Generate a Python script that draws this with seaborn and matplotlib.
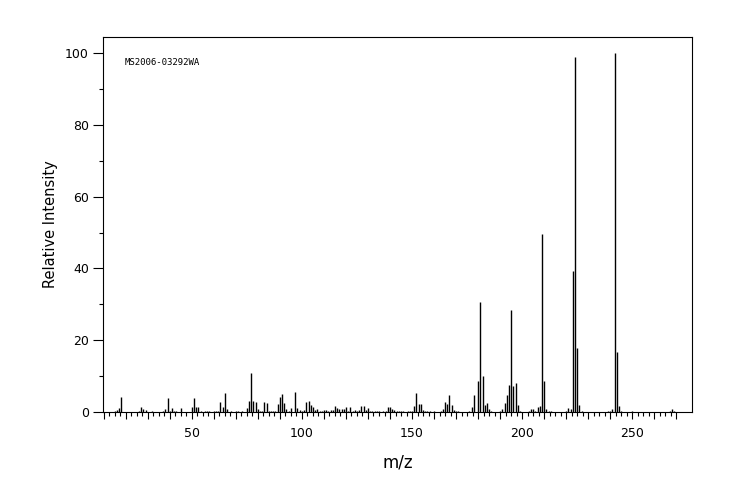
#!/usr/bin/env python3
"""Spectre de masse MS2006-03292WA - recreation"""
import numpy as np
import matplotlib; matplotlib.use('Agg')
import matplotlib.pyplot as plt
import seaborn as sns
from matplotlib.ticker import FixedLocator, MultipleLocator, FuncFormatter

mz = [15, 16, 17, 18, 26, 27, 28, 29, 32,
      37, 38, 39, 40, 41, 42, 43, 45,
      50, 51, 52, 53, 54, 56, 57, 58, 60, 61, 62, 63, 64, 65, 66, 68, 70, 71, 73,
      75, 76, 77, 78, 79, 80, 81, 82, 83, 84, 85, 86, 87, 88, 89, 90,
      91, 92, 93, 94, 95, 97, 98, 99, 100, 101, 102, 103, 104, 105, 106, 107, 108, 109,
      110, 111, 112, 113, 114, 115, 116, 117, 118, 119, 120, 121, 122, 123, 124, 125, 126,
      127, 128, 129, 130, 131, 132, 133, 134, 135, 137, 138, 139, 140, 141, 142, 143, 144,
      145, 146, 148, 149, 150, 151, 152, 153, 154, 155, 156, 157, 158, 160, 163, 164, 165,
      166, 167, 168, 169, 170, 171, 176, 177, 178, 180, 181, 182, 183, 184, 185, 186,
      190, 191, 192, 193, 194, 195, 196, 197, 198, 199, 203, 204, 205, 206, 207, 208, 209,
      210, 211, 212, 213, 220, 221, 222, 223, 224, 225, 226, 227,
      239, 240, 241, 242, 243, 244, 245, 250, 267, 268, 269]
intensity = [0.4, 0.6, 1.1, 4.3, 0.4, 1.5, 0.8, 0.5, 0.4,
             0.4, 0.9, 4.0, 0.4, 1.1, 0.4, 0.4, 1.2,
             1.5, 4.0, 1.4, 1.4, 0.4, 0.3, 0.3, 0.3, 0.3, 0.3, 0.4, 2.9, 1.4, 5.4, 0.7, 0.4, 0.4, 0.4, 0.4,
             1.1, 3.2, 11.0, 3.2, 2.9, 0.7, 0.4, 0.4, 2.9, 2.6, 0.4, 0.4, 0.4, 0.4, 2.1, 4.1,
             5.0, 2.4, 0.8, 0.4, 1.0, 5.7, 1.2, 0.5, 0.4, 0.5, 2.8, 3.1, 1.9, 1.5, 0.6, 0.9, 0.4, 0.4,
             0.6, 0.5, 0.4, 0.5, 0.5, 1.7, 1.0, 0.8, 0.8, 0.8, 1.3, 0.3, 1.3, 0.4, 0.5, 0.4, 0.5,
             1.7, 1.7, 0.5, 1.0, 0.4, 0.4, 0.4, 0.4, 0.4, 0.4, 0.4, 1.5, 1.5, 0.8, 0.5, 0.4, 0.4,
             0.4, 0.4, 0.4, 0.4, 0.4, 1.8, 5.4, 2.2, 2.2, 0.5, 0.4, 0.4, 0.4, 0.4, 0.4, 0.9, 2.8,
             2.2, 4.7, 2.0, 0.5, 0.4, 0.3, 0.4, 1.5, 4.8, 8.5, 30.6, 10.1, 2.0, 2.6, 0.7, 0.4,
             0.4, 0.9, 2.6, 4.8, 7.6, 28.5, 7.3, 8.2, 2.0, 0.4, 0.4, 0.7, 0.9, 0.3, 1.5, 1.8, 49.6,
             8.5, 0.9, 0.4, 0.4, 0.4, 1.2, 0.9, 39.4, 99.0, 17.9, 2.0, 0.4,
             0.4, 0.4, 0.7, 100.0, 16.8, 1.8, 0.4, 0.4, 0.4, 0.7, 0.4]

label_id = "MS2006-03292WA"
x_labels_at = [50, 100, 150, 200, 250]
y_major = [0, 20, 40, 60, 80, 100]

sns.set_theme(style="ticks")
plt.rcParams['font.family'] = ['DejaVu Sans']

fig = plt.figure(figsize=(7.44, 5), dpi=100)
ax = fig.add_axes([103/744, 1 - 412/500, 589/744, 375/500])

ax.vlines(mz, 0, intensity, color='black', lw=1.0)

ax.set_xlim(9.7, 277.1)
ax.set_ylim(0, 104.5)

# axe x : graduations 2.5 / 10 / 50
ax.xaxis.set_major_locator(FixedLocator(np.arange(10, 271, 10)))
ax.xaxis.set_minor_locator(FixedLocator(np.arange(10, 270.1, 2.5)))
ax.xaxis.set_major_formatter(FuncFormatter(lambda v, p: f"{int(v)}" if int(round(v)) in x_labels_at else ""))
ax.tick_params(axis='x', which='major', direction='out', length=4.8, width=0.8,
               color='black', labelcolor='black', labelsize=9, pad=6)
ax.tick_params(axis='x', which='minor', direction='out', length=2.9, width=0.8, color='black')
for t in ax.xaxis.get_major_ticks():
    if int(round(t.get_loc())) in x_labels_at:
        t.tick1line.set_markersize(7.2)

# axe y
ax.yaxis.set_major_locator(FixedLocator(y_major))
ax.yaxis.set_minor_locator(MultipleLocator(10))
ax.tick_params(axis='y', which='major', direction='out', length=7.2, width=0.8,
               color='black', labelcolor='black', labelsize=9, pad=3)
ax.tick_params(axis='y', which='minor', direction='out', length=3.1, width=0.8, color='black')

for s in ax.spines.values():
    s.set_visible(True)
    s.set_color('black')
    s.set_linewidth(0.8)

ax.set_xlabel("m/z", fontsize=12, labelpad=10, color='black')
ax.set_ylabel("Relative Intensity", fontsize=10.5, labelpad=5, color='black')

ax.text(0.037, 0.931, label_id, transform=ax.transAxes, fontsize=6.5,
        family='DejaVu Sans Mono', va='center', ha='left', color='black')

plt.savefig("out.png", dpi=100)
plt.close()
